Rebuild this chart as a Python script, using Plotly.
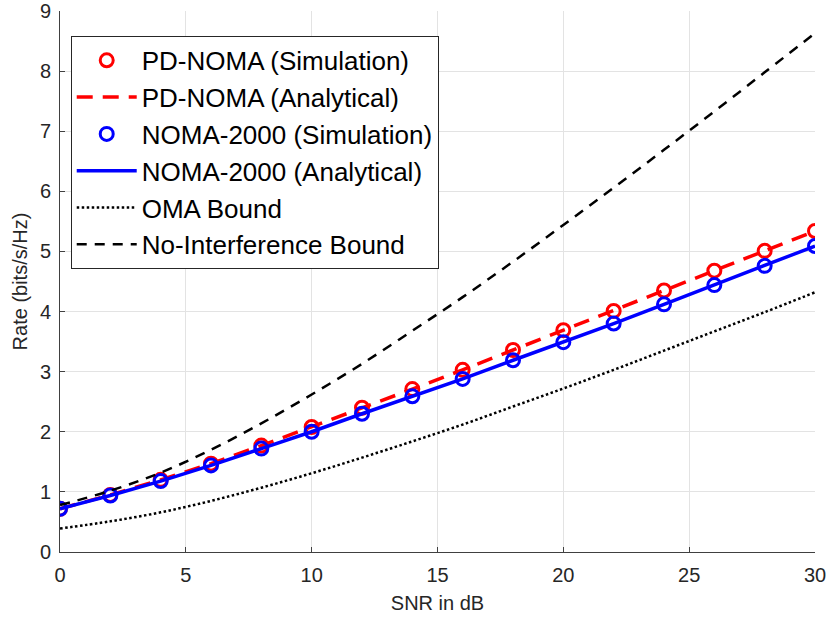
import plotly.graph_objects as go

snr_db = [0, 2, 4, 6, 8, 10, 12, 14, 16, 18, 20, 22, 24, 26, 28, 30]
pd_noma = [0.72, 0.95, 1.20, 1.47, 1.77, 2.08, 2.40, 2.71, 3.03, 3.36, 3.69, 4.01, 4.35, 4.68, 5.01, 5.34]
noma_2000 = [0.72, 0.94, 1.18, 1.44, 1.72, 2.00, 2.30, 2.59, 2.88, 3.19, 3.49, 3.80, 4.12, 4.44, 4.76, 5.09]
oma_bound = [0.39, 0.51, 0.66, 0.85, 1.07, 1.31, 1.57, 1.84, 2.12, 2.42, 2.72, 3.03, 3.35, 3.67, 3.99, 4.32]
no_interf = [0.78, 1.02, 1.32, 1.70, 2.14, 2.62, 3.13, 3.68, 4.24, 4.83, 5.44, 6.06, 6.69, 7.33, 7.98, 8.63]

x_ticks = [0, 5, 10, 15, 20, 25, 30]
y_ticks = [0, 1, 2, 3, 4, 5, 6, 7, 8, 9]

RED = "#ff0000"
BLUE = "#0000ff"
FONT = "Liberation Sans, Arial, sans-serif"

fig = go.Figure()
fig.add_trace(go.Scatter(x=snr_db, y=pd_noma, mode="markers", name="PD-NOMA (Simulation)",
                         marker=dict(symbol="circle-open", size=13, color=RED, line=dict(width=3, color=RED))))
fig.add_trace(go.Scatter(x=snr_db, y=pd_noma, mode="lines", name="PD-NOMA (Analytical)",
                         line=dict(color=RED, width=3.5, dash="16px,10px")))
fig.add_trace(go.Scatter(x=snr_db, y=noma_2000, mode="markers", name="NOMA-2000 (Simulation)",
                         marker=dict(symbol="circle-open", size=13, color=BLUE, line=dict(width=3, color=BLUE))))
fig.add_trace(go.Scatter(x=snr_db, y=noma_2000, mode="lines", name="NOMA-2000 (Analytical)",
                         line=dict(color=BLUE, width=3.5)))
fig.add_trace(go.Scatter(x=snr_db, y=oma_bound, mode="lines", name="OMA Bound",
                         line=dict(color="black", width=2.5, dash="2.5px,2.5px", shape="spline")))
fig.add_trace(go.Scatter(x=snr_db, y=no_interf, mode="lines", name="No-Interference Bound",
                         line=dict(color="black", width=2.5, dash="10px,8px", shape="spline")))

axis_common = dict(
    showgrid=True, gridcolor="#e3e3e3", gridwidth=1,
    showline=True, linecolor="#404040", linewidth=1,
    ticks="inside", ticklen=5, tickcolor="#404040",
    zeroline=False, mirror=False, automargin=False,
    tickfont=dict(family=FONT, size=20, color="#262626"),
)

fig.update_xaxes(range=[0, 30], tickvals=x_ticks, ticklabelstandoff=5, **axis_common,
                 title=dict(text="SNR in dB", standoff=10,
                            font=dict(family=FONT, size=20, color="#262626")))
fig.update_yaxes(range=[0, 9], tickvals=y_ticks, ticklabelstandoff=4, **axis_common,
                 title=dict(text="Rate (bits/s/Hz)", standoff=6,
                            font=dict(family=FONT, size=20, color="#262626")))

fig.update_layout(
    width=830, height=619,
    margin=dict(l=60, r=15, t=11, b=67),
    paper_bgcolor="white", plot_bgcolor="white",
    showlegend=True,
    legend=dict(
        x=0.0142, y=0.954, xanchor="left", yanchor="top",
        bgcolor="white", bordercolor="#262626", borderwidth=1,
        font=dict(family=FONT, size=26, color="black"),
        itemwidth=60, tracegroupgap=0,
    ),
)

fig.write_html("out.html")
